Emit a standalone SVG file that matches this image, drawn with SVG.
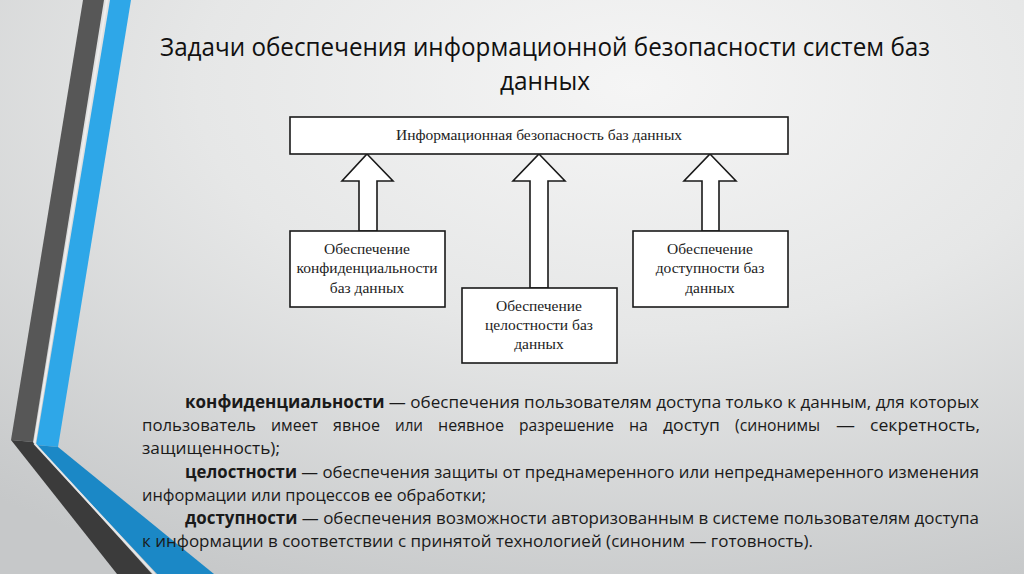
<svg xmlns="http://www.w3.org/2000/svg" width="1024" height="574" viewBox="0 0 1024 574">
  <defs>
    <radialGradient id="bg" cx="0.62" cy="0.15" r="0.95">
      <stop offset="0" stop-color="#f5f5f5"/>
      <stop offset="0.45" stop-color="#e6e7e7"/>
      <stop offset="1" stop-color="#c6c8c9"/>
    </radialGradient>
    <style>
      .box { fill: #ffffff; stroke: #1a1a1a; stroke-width: 1.6; }
      .arrow { fill: #ffffff; stroke: #1a1a1a; stroke-width: 1.6; stroke-linejoin: miter; }
      .bt { font-family: "Liberation Serif", "Times New Roman", serif; font-size: 15.5px; fill: #222; text-anchor: middle; }
      .title { font-family: "Open Sans", "Liberation Sans", sans-serif; font-size: 25px; fill: #111; }
      .body { font-family: "Open Sans", "Liberation Sans", sans-serif; font-size: 17px; fill: #1a1a1a; }
      .b { font-weight: bold; }
    </style>
  </defs>

  <rect x="0" y="0" width="1024" height="574" fill="url(#bg)"/>

  <!-- decoration -->
  <polygon points="83,0 104,0 33,442 11,440" fill="#575757"/>
  <polygon points="11,440 33,442 152,574 117,574" fill="#3b3b3b"/>
  <polygon points="110,0 131,0 58,447 36,445" fill="#2ea7e8"/>
  <polygon points="36,445 58,447 214,574 157,574" fill="#1b88c6"/>
  <line x1="107" y1="0" x2="34.5" y2="443.5" stroke="#eeeeee" stroke-width="2"/>
  <line x1="34.5" y1="443.5" x2="154.5" y2="574" stroke="#e6e6e6" stroke-width="2"/>

  <!-- title -->
  <text class="title" x="160" y="56" textLength="770" lengthAdjust="spacingAndGlyphs">Задачи обеспечения информационной безопасности систем баз</text>
  <text class="title" x="500" y="90" textLength="90" lengthAdjust="spacingAndGlyphs">данных</text>

  <!-- connectors -->
  <g id="connectors">
    <path class="arrow" d="M367,154 L393,181 L377,181 L377,231 L359,231 L359,181 L342,181 Z"/>
    <path class="arrow" d="M539,154 L565,181 L548,181 L548,288 L530,288 L530,181 L513,181 Z"/>
    <path class="arrow" d="M710,154 L736,181 L719,181 L719,231 L702,231 L702,181 L684,181 Z"/>
  </g>

  <!-- nodes -->
  <g id="node-top">
    <rect class="box" x="290" y="117" width="498" height="37"/>
    <text class="bt" x="539" y="140">Информационная безопасность баз данных</text>
  </g>
  <g id="node-conf">
    <rect class="box" x="290" y="231" width="155" height="76"/>
    <text class="bt" x="367" y="254">Обеспечение</text>
    <text class="bt" x="367" y="273">конфиденциальности</text>
    <text class="bt" x="367" y="293">баз данных</text>
  </g>
  <g id="node-integ">
    <rect class="box" x="462" y="288" width="155" height="75"/>
    <text class="bt" x="539" y="311">Обеспечение</text>
    <text class="bt" x="539" y="330">целостности баз</text>
    <text class="bt" x="539" y="349">данных</text>
  </g>
  <g id="node-avail">
    <rect class="box" x="633" y="231" width="155" height="76"/>
    <text class="bt" x="710" y="254">Обеспечение</text>
    <text class="bt" x="710" y="273">доступности баз</text>
    <text class="bt" x="710" y="293">данных</text>
  </g>

  <!-- body text -->
  <g id="definitions">
    <text class="body" x="185" y="408" textLength="794" lengthAdjust="spacingAndGlyphs"><tspan class="b">конфиденциальности</tspan> — обеспечения пользователям доступа только к данным, для которых</text>
    <text class="body" x="142" y="431" textLength="114" lengthAdjust="spacingAndGlyphs">пользователь</text>
    <text class="body" x="271" y="431" textLength="47" lengthAdjust="spacingAndGlyphs">имеет</text>
    <text class="body" x="333" y="431" textLength="47" lengthAdjust="spacingAndGlyphs">явное</text>
    <text class="body" x="395" y="431" textLength="28" lengthAdjust="spacingAndGlyphs">или</text>
    <text class="body" x="438" y="431" textLength="66" lengthAdjust="spacingAndGlyphs">неявное</text>
    <text class="body" x="519" y="431" textLength="95" lengthAdjust="spacingAndGlyphs">разрешение</text>
    <text class="body" x="629" y="431" textLength="19" lengthAdjust="spacingAndGlyphs">на</text>
    <text class="body" x="663" y="431" textLength="57" lengthAdjust="spacingAndGlyphs">доступ</text>
    <text class="body" x="735" y="431" textLength="85" lengthAdjust="spacingAndGlyphs">(синонимы</text>
    <text class="body" x="836" y="431" textLength="19" lengthAdjust="spacingAndGlyphs">—</text>
    <text class="body" x="870" y="431" textLength="110" lengthAdjust="spacingAndGlyphs">секретность,</text>
    <text class="body" x="142" y="454" textLength="138" lengthAdjust="spacingAndGlyphs">защищенность);</text>
    <text class="body" x="185" y="478" textLength="794" lengthAdjust="spacingAndGlyphs"><tspan class="b">целостности</tspan> — обеспечения защиты от преднамеренного или непреднамеренного изменения</text>
    <text class="body" x="142" y="501" textLength="344" lengthAdjust="spacingAndGlyphs">информации или процессов ее обработки;</text>
    <text class="body" x="185" y="524" textLength="794" lengthAdjust="spacingAndGlyphs"><tspan class="b">доступности</tspan> — обеспечения возможности авторизованным в системе пользователям доступа</text>
    <text class="body" x="142" y="547" textLength="671" lengthAdjust="spacingAndGlyphs">к информации в соответствии с принятой технологией (синоним — готовность).</text>
  </g>
</svg>
